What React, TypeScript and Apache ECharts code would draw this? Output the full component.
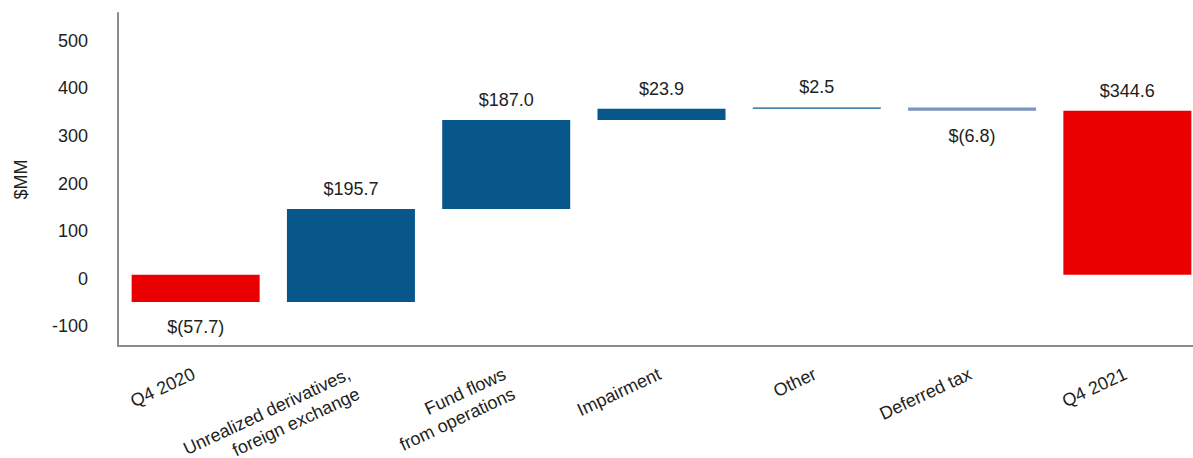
import React, { useEffect, useRef } from "react";
import * as echarts from "echarts";

const categories = [
  "Q4 2020",
  "Unrealized derivatives,\nforeign exchange",
  "Fund flows\nfrom operations",
  "Impairment",
  "Other",
  "Deferred tax",
  "Q4 2021",
];
// change for each step; first and last are totals
const deltas = [-57.7, 195.7, 187.0, 23.9, 2.5, -6.8, 344.6];
const isTotal = [true, false, false, false, false, false, true];

const yMin = -150;
const yMax = 550;
const yStep = 50;

const RED = "#EA0000";
const BLUE = "#08578A";
const LIGHT = "#7C95BD";
const AXIS = "#8C8C8C";
const TEXT = "#1E1E1E";
const FONT = "'Liberation Sans', Arial, sans-serif";
const FS = 18;

function fmt(v: number): string {
  const s = Math.abs(v).toFixed(1);
  return v < 0 ? `$(${s})` : `$${s}`;
}

export default function App() {
  const ref = useRef<HTMLDivElement>(null);
  useEffect(() => {
    if (!ref.current) return;
    const chart = echarts.init(ref.current, null, { renderer: "svg" });

    let run = 0;
    const rows = deltas.map((d, i) => {
      let lo: number, hi: number;
      if (isTotal[i]) {
        lo = Math.min(0, d);
        hi = Math.max(0, d);
        run = d;
      } else {
        const next = run + d;
        lo = Math.min(run, next);
        hi = Math.max(run, next);
        run = next;
      }
      return [i, lo, hi, d];
    });

    chart.setOption({
      animation: false,
      grid: {
        left: 118,
        top: 13,
        width: 1087,
        bottom: 112,
        containLabel: false,
        outerBoundsMode: "none",
      },
      xAxis: {
        type: "category",
        data: categories,
        boundaryGap: true,
        axisLine: { onZero: false, lineStyle: { color: AXIS, width: 2 } },
        axisTick: { alignWithLabel: true, length: 9, lineStyle: { color: AXIS, width: 2 } },
        axisLabel: {
          interval: 0,
          rotate: 25,
          align: "right",
          verticalAlign: "top",
          margin: 14,
          padding: [0, 7, 0, 0],
          fontSize: FS,
          lineHeight: 22,
          color: TEXT,
          fontFamily: FONT,
          hideOverlap: false,
        },
        splitLine: { show: false },
      },
      yAxis: {
        type: "value",
        min: yMin,
        max: yMax,
        interval: yStep,
        name: "$MM",
        nameLocation: "middle",
        nameGap: 88,
        nameTextStyle: { fontSize: FS, color: TEXT, fontFamily: FONT },
        axisLine: { show: true, lineStyle: { color: AXIS, width: 2 } },
        axisTick: { show: false },
        splitLine: { show: false },
        axisLabel: {
          fontSize: FS,
          color: TEXT,
          fontFamily: FONT,
          margin: 30,
          formatter: (v: number) => (v % 100 === 0 ? `{a|${v}}` : ""),
          rich: {
            a: {
              fontSize: FS,
              color: TEXT,
              fontFamily: FONT,
              padding: [8, 0, 0, 0],
            },
          },
        },
      },
      series: [
        {
          type: "custom",
          data: rows,
          encode: { x: 0, y: [1, 2] },
          renderItem: (params: any, api: any) => {
            const i = api.value(0);
            const lo = api.value(1);
            const hi = api.value(2);
            const d = api.value(3);
            const top = api.coord([i, hi]);
            const bot = api.coord([i, lo]);
            const w = 128;
            const color = isTotal[i] ? RED : d < 0 ? LIGHT : BLUE;
            const below = d < 0;
            return {
              type: "group",
              children: [
                {
                  type: "rect",
                  shape: {
                    x: top[0] - w / 2,
                    y: top[1],
                    width: w,
                    height: Math.max(bot[1] - top[1], 1),
                  },
                  style: { fill: color },
                },
                {
                  type: "text",
                  x: top[0],
                  y: below ? bot[1] + 25 : top[1] - 20,
                  style: {
                    text: fmt(d),
                    fill: TEXT,
                    fontSize: FS,
                    fontFamily: FONT,
                    align: "center",
                    verticalAlign: "middle",
                  },
                },
              ],
            };
          },
        },
      ],
    });
    return () => chart.dispose();
  }, []);
  return (
    <div
      ref={ref}
      style={{ position: "absolute", left: 0, top: 0, width: 1193, height: 458 }}
    />
  );
}
